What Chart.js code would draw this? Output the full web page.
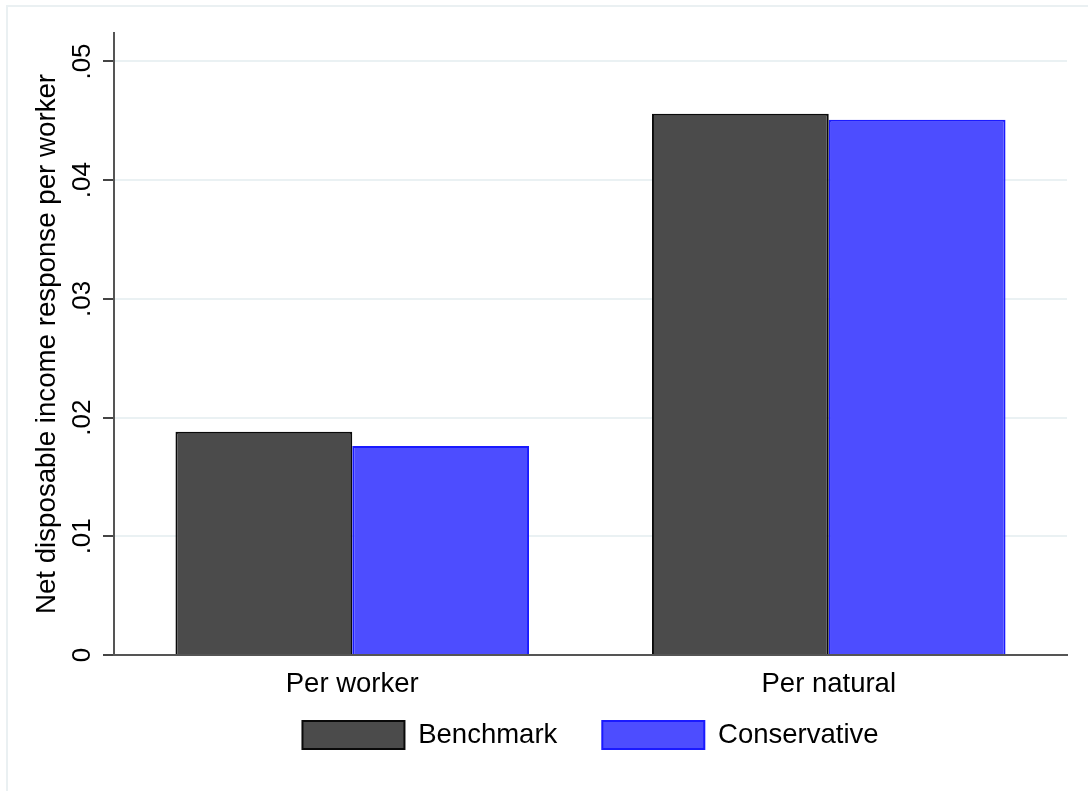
<!DOCTYPE html>
<html>
<head>
<meta charset="utf-8">
<script src="https://cdn.jsdelivr.net/npm/chart.js@4.4.0/dist/chart.umd.min.js"></script>
<style>
  html, body { margin: 0; padding: 0; background: #ffffff; }
  #wrap { position: relative; width: 1088px; height: 791px; overflow: hidden; }
  #frame { position: absolute; left: 6px; top: 5px; width: 1200px; height: 900px; border: 2px solid #eaf0f2; box-sizing: border-box; }
  canvas { position: absolute; left: 0; top: 0; }
</style>
</head>
<body>
<div id="wrap">
  <div id="frame"></div>
  <canvas id="c" width="1088" height="791"></canvas>
</div>
<script>
const categories = ['Per worker', 'Per natural'];
const benchmark = [0.0188, 0.0456];
const conservative = [0.0176, 0.0451];
const seriesNames = ['Benchmark', 'Conservative'];
const yTickValues = [0, 0.01, 0.02, 0.03, 0.04, 0.05];
const yTickLabels = ['0', '.01', '.02', '.03', '.04', '.05'];
const yTitle = 'Net disposable income response per worker';

const FONT = "'Liberation Sans', Arial, Helvetica, sans-serif";

// Moves the legend up so its boxes sit where the reference has them,
// while keeping the wide horizontal gap between items.
const legendShift = {
  id: 'legendShift',
  afterLayout(chart) {
    const l = chart.legend;
    if (!l) return;
    const dy = -24;
    l.top += dy;
    l.bottom += dy;
  }
};

new Chart(document.getElementById('c'), {
  type: 'bar',
  data: {
    labels: categories,
    datasets: [
      {
        label: seriesNames[0],
        data: benchmark,
        backgroundColor: '#4b4b4b',
        borderColor: '#0a0a0a',
        borderWidth: 2,
        borderSkipped: 'start'
      },
      {
        label: seriesNames[1],
        data: conservative,
        backgroundColor: '#4d4dff',
        borderColor: '#1a1aff',
        borderWidth: 2,
        borderSkipped: 'start'
      }
    ]
  },
  plugins: [legendShift],
  options: {
    responsive: false,
    animation: false,
    devicePixelRatio: 1,
    layout: { padding: { left: 0, top: 33, right: 21, bottom: 8 } },
    datasets: { bar: { categoryPercentage: 0.742, barPercentage: 1.0 } },
    plugins: {
      tooltip: { enabled: false },
      legend: {
        position: 'bottom',
        fullSize: false,
        labels: {
          color: '#000',
          font: { family: FONT, size: 27.5 },
          boxWidth: 102,
          boxHeight: 28,
          padding: 45
        }
      }
    },
    scales: {
      x: {
        grid: { display: false, drawTicks: false },
        border: { display: true, color: '#555555', width: 2 },
        ticks: { color: '#000', font: { family: FONT, size: 27.5 }, padding: 12.5 },
        afterFit: (s) => { s.height = 45; }
      },
      y: {
        min: 0,
        max: 0.0524,
        afterBuildTicks: (s) => { s.ticks = yTickValues.map(v => ({ value: v })); },
        afterFit: (s) => { s.width = 114; },
        grid: {
          color: (ctx) => (ctx.tick && ctx.tick.value === 0) ? 'rgba(0,0,0,0)' : '#eaf1f3',
          lineWidth: 2,
          tickColor: '#444444',
          tickLength: 11,
          tickWidth: 2
        },
        border: { display: true, color: '#555555', width: 2 },
        ticks: {
          color: '#000',
          font: { family: FONT, size: 26 },
          padding: 2,
          minRotation: 90,
          maxRotation: 90,
          crossAlign: 'center',
          callback: (v) => yTickLabels[yTickValues.indexOf(v)] ?? ''
        },
        title: {
          display: true,
          text: yTitle,
          color: '#000',
          font: { family: FONT, size: 27.7 },
          padding: { top: 30.5, bottom: 4 }
        }
      }
    }
  }
});
</script>
</body>
</html>
